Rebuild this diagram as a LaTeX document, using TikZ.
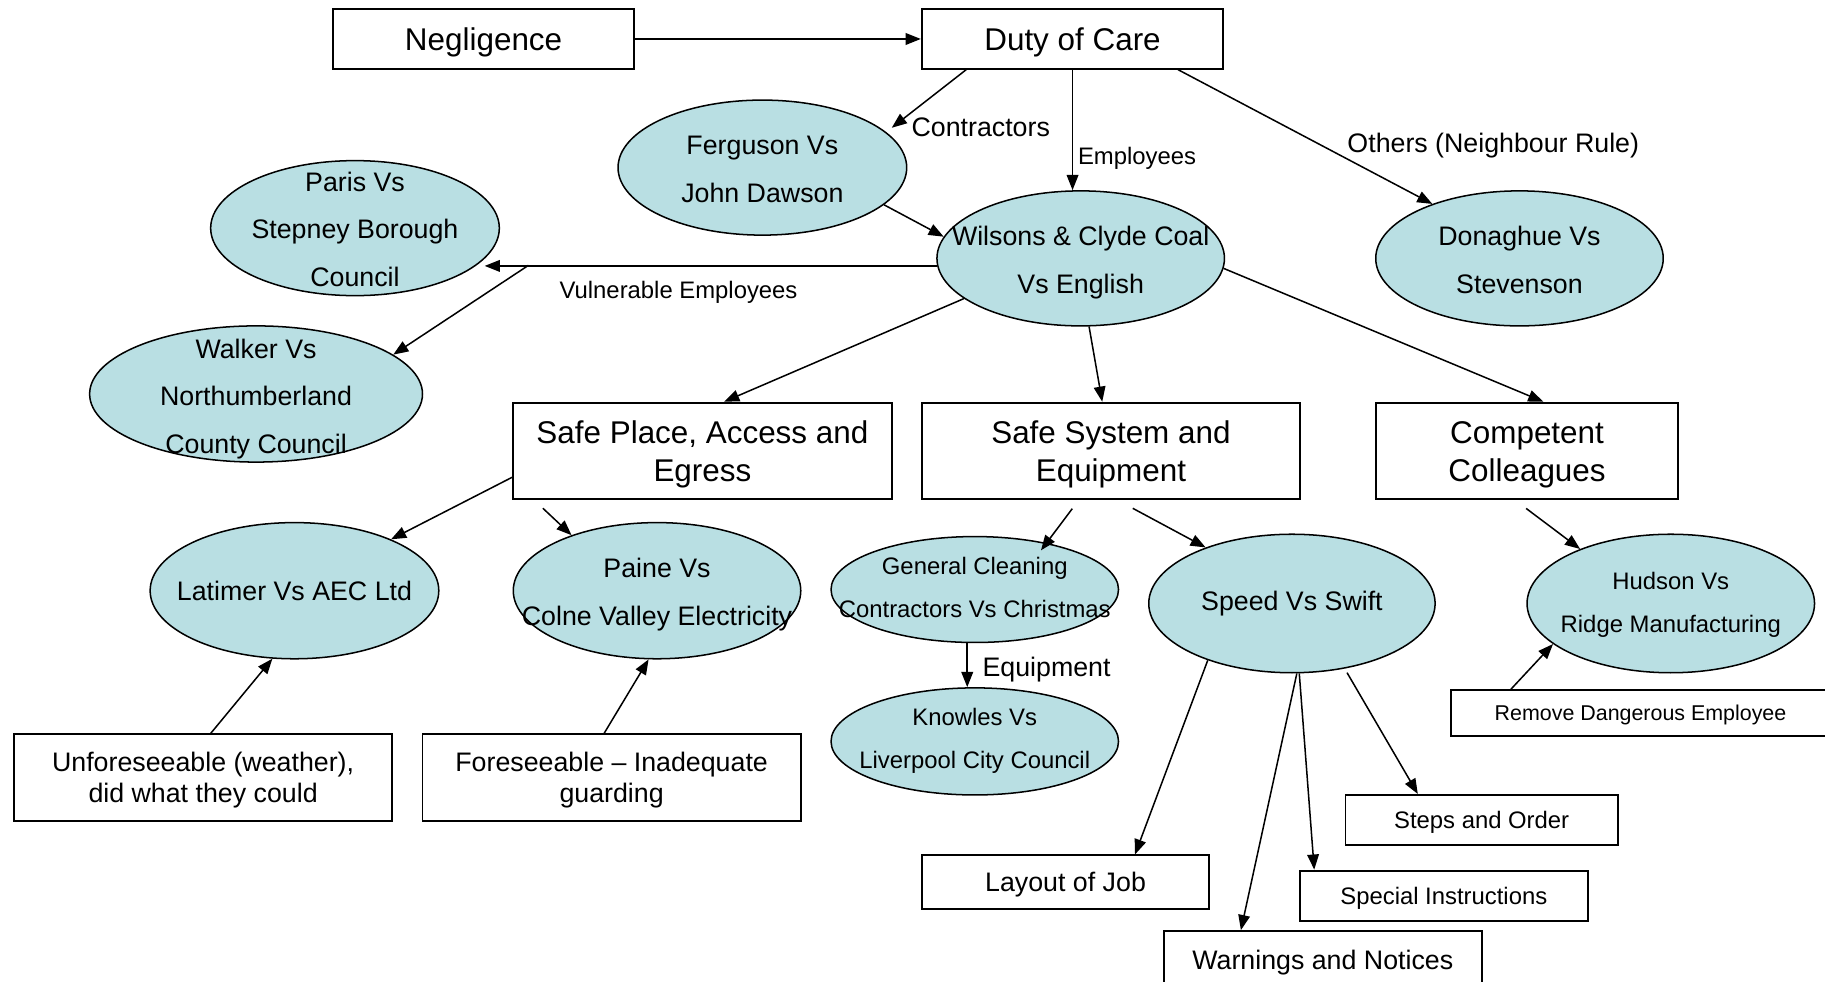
\documentclass[tikz,border=0pt]{standalone}
\usepackage{fontspec}
\setmainfont{Liberation Sans}
\usetikzlibrary{shapes.geometric,arrows.meta}
\definecolor{casefill}{RGB}{185,223,227}
\newcommand\FontBig{\fontsize{27}{33}\selectfont}
\newcommand\FontMid{\fontsize{23}{27}\selectfont}
\newcommand\FontCase{\fontsize{23}{41}\selectfont}
\newcommand\FontCaseS{\fontsize{20.5}{37}\selectfont}
\newcommand\FontSmall{\fontsize{20.5}{25}\selectfont}
\newcommand\FontTiny{\fontsize{18.4}{22}\selectfont}
\newcommand\StrutBig{\rule[-6.8pt]{0pt}{33pt}}
\newcommand\StrutMid{\rule[-5.25pt]{0pt}{27pt}}
\newcommand\StrutSmall{\rule[-5.15pt]{0pt}{25pt}}
\newcommand\StrutTiny{\rule[-4.4pt]{0pt}{22pt}}
\tikzset{
  box/.style={draw, line width=1.7pt, rectangle, inner sep=0pt, align=center},
  case/.style={draw, line width=1.3pt, ellipse, fill=casefill, inner sep=0pt},
  ctext/.style={align=center, inner sep=0pt},
  lbl/.style={inner sep=0pt},
  arr/.style={line width=1.3pt, -{Triangle[length=13pt,width=10pt]}},
}
\begin{document}
\begin{tikzpicture}[x=1pt,y=-1pt]
\useasboundingbox (0,0) rectangle (1568,843);
% rectangles
\node[box, font=\FontBig, minimum width=259pt, minimum height=51pt] (neg) at (415.5,33.5) {\StrutBig Negligence};
\node[box, font=\FontBig, minimum width=259pt, minimum height=51pt] (duty) at (921.5,33.5) {\StrutBig Duty of Care};
\node[box, font=\FontBig, minimum width=325pt, minimum height=83pt] (sp) at (603.5,387.5) {\StrutBig Safe Place, Access and\\\StrutBig Egress};
\node[box, font=\FontBig, minimum width=325pt, minimum height=83pt] (ss) at (954.5,387.5) {\StrutBig Safe System and\\\StrutBig Equipment};
\node[box, font=\FontBig, minimum width=260pt, minimum height=83pt] (comp) at (1312,387.5) {\StrutBig Competent\\\StrutBig Colleagues};
\node[box, font=\FontMid, minimum width=325pt, minimum height=74pt] (unf) at (174.5,668) {\StrutMid Unforeseeable (weather),\\\StrutMid did what they could};
\node[box, font=\FontMid, minimum width=325pt, minimum height=74pt] (fore) at (525.5,668) {\StrutMid Foreseeable -- Inadequate\\\StrutMid guarding};
\node[box, font=\FontTiny, minimum width=325pt, minimum height=39pt] (rem) at (1409.5,612.5) {\StrutTiny Remove Dangerous Employee};
\node[box, font=\FontSmall, minimum width=234pt, minimum height=43pt] (steps) at (1273,704.5) {\StrutSmall Steps and Order};
\node[box, font=\FontMid, minimum width=247pt, minimum height=46pt] (lay) at (915.5,758) {\StrutMid Layout of Job};
\node[box, font=\FontSmall, minimum width=247pt, minimum height=43pt] (spec) at (1240.5,769.5) {\StrutSmall Special Instructions};
\node[box, font=\FontMid, minimum width=273pt, minimum height=50pt] (warn) at (1136.5,825) {\StrutMid Warnings and Notices};
% ellipses
\node[case, minimum width=248pt, minimum height=116pt] (fer) at (655,144) {};
\node[case, minimum width=248pt, minimum height=116pt] (par) at (305,196) {};
\node[case, minimum width=247pt, minimum height=116pt] (wil) at (928.5,222) {};
\node[case, minimum width=247pt, minimum height=116pt] (don) at (1305.5,222) {};
\node[case, minimum width=286pt, minimum height=117pt] (wal) at (220,338.5) {};
\node[case, minimum width=248pt, minimum height=117pt] (lat) at (253,507.5) {};
\node[case, minimum width=247pt, minimum height=117pt] (pai) at (564.5,507.5) {};
\node[case, minimum width=247pt, minimum height=91pt] (gc) at (837.5,506.5) {};
\node[case, minimum width=246pt, minimum height=119pt] (spd) at (1110,518.5) {};
\node[case, minimum width=247pt, minimum height=119pt] (hud) at (1435.5,518.5) {};
\node[case, minimum width=247pt, minimum height=92pt] (kn) at (837.5,637) {};
% ellipse texts
\node[ctext, font=\FontCase, yshift=-1pt] (fer-t) at (fer) {\strut Ferguson Vs\\\strut John Dawson};
\node[ctext, font=\FontCase, yshift=-1pt] (par-t) at (par) {\strut Paris Vs\\\strut Stepney Borough\\\strut Council};
\node[ctext, font=\FontCase, yshift=-1.5pt] (wil-t) at (wil) {\strut Wilsons \& Clyde Coal\\\strut Vs English};
\node[ctext, font=\FontCase, yshift=-1.5pt] (don-t) at (don) {\strut Donaghue Vs\\\strut Stevenson};
\node[ctext, font=\FontCase, yshift=-2pt] (wal-t) at (wal) {\strut Walker Vs\\\strut Northumberland\\\strut County Council};
\node[ctext, font=\FontCase] (lat-t) at (lat) {\strut Latimer Vs AEC Ltd};
\node[ctext, font=\FontCase, yshift=-1pt] (pai-t) at (pai) {\strut Paine Vs\\\strut Colne Valley Electricity};
\node[ctext, font=\FontCaseS, yshift=2pt] (gc-t) at (gc) {\strut General Cleaning\\\strut Contractors Vs Christmas};
\node[ctext, font=\FontCase, yshift=2pt] (spd-t) at (spd) {\strut Speed Vs Swift};
\node[ctext, font=\FontCaseS, yshift=1pt] (hud-t) at (hud) {\strut Hudson Vs\\\strut Ridge Manufacturing};
\node[ctext, font=\FontCaseS, yshift=2.5pt] (kn-t) at (kn) {\strut Knowles Vs\\\strut Liverpool City Council};
% labels
\node[lbl, font=\FontMid, anchor=west] (l-con) at (783,109) {\StrutMid Contractors};
\node[lbl, font=\FontSmall, anchor=west] (l-emp) at (926,134) {\StrutSmall Employees};
\node[lbl, font=\FontMid] (l-oth) at (1283,123) {\StrutMid Others (Neighbour Rule)};
\node[lbl, font=\FontSmall] (l-vul) at (583,249) {\StrutSmall Vulnerable Employees};
\node[lbl, font=\FontMid, anchor=west] (l-equ) at (844,573) {\StrutMid Equipment};
% connectors
\draw[arr] (neg.east) -- (duty.west);
\draw[arr, shorten >=6pt] ([xshift=39pt]duty.south west) -- (fer.16);
\draw[arr] (duty.south) -- (duty.south |- wil.north);
\draw[arr] ([xshift=221pt]duty.south west) -- (don.148);
\draw[arr] (fer.-17) -- (wil.171);
\draw[arr, shorten >=5pt] (wil.183) -- (par.-16 |- wil.183);
\coordinate (vb) at (454,228);
\draw[arr] (vb) -- (wal.16);
\draw[arr] (wil.199) -- ([xshift=182pt]sp.north west);
\draw[arr] (wil.-83) -- ([xshift=-7.5pt]ss.north);
\draw[arr] (wil.-4) -- ([xshift=14pt]comp.north);
\draw[arr] ([yshift=-22.5pt]sp.west) -- (lat.28);
\draw[arr, shorten <=10pt] ([xshift=19pt]sp.south west) -- (pai.147);
\draw[arr, shorten <=9pt, shorten >=-8pt] ([xshift=135.5pt]ss.south west) -- (gc.33);
\draw[arr, shorten <=14.5pt] ([xshift=169.3pt]ss.south west) -- (spd.147);
\draw[arr] (gc.262) -- (gc.262 |- kn.north);
\draw[arr, shorten <=11.6pt] ([xshift=120.8pt]comp.south west) -- (hud.149);
\draw[arr] ([xshift=6.5pt]unf.north) -- (lat.252);
\draw[arr] ([xshift=-6.5pt]fore.north) -- (pai.263);
\draw[arr] ([xshift=52pt]rem.north west) -- (hud.199);
\draw[arr] (spd.214) -- ([xshift=184pt]lay.north west);
\draw[arr] (spd.-86) -- ([xshift=67pt]warn.north west);
\draw[arr] (spd.-84) -- ([xshift=13pt]spec.north west);
\draw[arr, shorten <=4pt] (spd.-51) -- ([xshift=63pt]steps.north west);
\end{tikzpicture}
\end{document}
